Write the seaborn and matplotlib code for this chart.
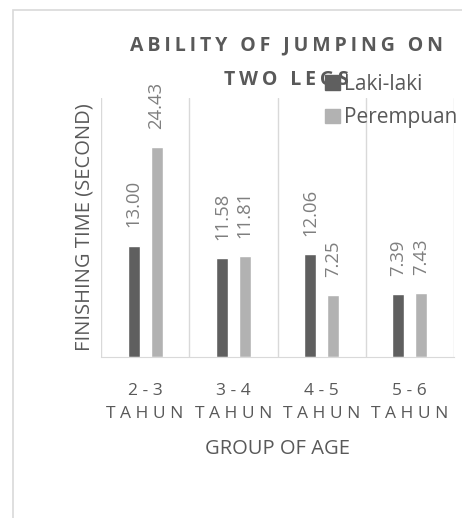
import pandas as pd
import matplotlib.pyplot as plt
import seaborn as sns
from matplotlib.patches import Rectangle

# ============================================
# DATA
# ============================================
age_groups = ["2-3", "3-4", "4-5", "5-6"]
tick_labels = ["2 - 3\nT A H U N", "3 - 4\nT A H U N", "4 - 5\nT A H U N", "5 - 6\nT A H U N"]
laki_laki = [13.00, 11.58, 12.06, 7.39]
perempuan = [24.43, 11.81, 7.25, 7.43]
series_names = ["Laki-laki", "Perempuan"]
title_lines = ["ABILITY OF JUMPING ON", "TWO LEGS"]

df = pd.DataFrame({
    "Age": age_groups * 2,
    "Time": laki_laki + perempuan,
    "Gender": [series_names[0]] * 4 + [series_names[1]] * 4,
})

# ============================================
# STYLE
# ============================================
sns.set_style("white")
plt.rcParams["font.family"] = ["Open Sans", "DejaVu Sans"]

text_color = "#595959"
grid_color = "#d9d9d9"
palette = {"Laki-laki": "#5f5f5f", "Perempuan": "#b2b2b2"}

fig = plt.figure(figsize=(4.62, 5.18), dpi=100)
ax = fig.add_axes([101 / 462, 1 - 357 / 518, 353 / 462, 259 / 518])

sns.barplot(data=df, x="Age", y="Time", hue="Gender", palette=palette,
            width=0.52, gap=0.48, ax=ax, legend=False, saturation=1)

for cont in ax.containers:
    ax.bar_label(cont, fmt="%.2f", rotation=90, padding=13,
                 fontsize=13.3, color="#7f7f7f")

ax.set_ylim(0, 30.2)
ax.set_xlim(-0.5, 3.5)
ax.set_yticks([])
ax.set_xticks(range(4))
ax.set_xticklabels(tick_labels, fontsize=12.5, color=text_color, linespacing=1.55)
ax.tick_params(axis="x", length=0, pad=19)

# vertical gridlines between categories
for xv in [-0.5, 0.5, 1.5, 2.5, 3.5]:
    ax.axvline(xv, color=grid_color, lw=1, zorder=0)
for s in ["top", "right", "left"]:
    ax.spines[s].set_visible(False)
ax.spines["bottom"].set_color(grid_color)

ax.set_xlabel("GROUP OF AGE", fontsize=14.5, color=text_color, labelpad=12)
ax.set_ylabel("FINISHING TIME (SECOND)", fontsize=14.5, color=text_color, labelpad=5)

# title with letter spacing, one text per line
for line, ypix in zip(title_lines, [45, 80]):
    fig.text(286 / 462, 1 - ypix / 518, "\u2009".join(line), ha="center",
             va="center", fontsize=14, fontweight="bold", color=text_color)

# legend
handles = [Rectangle((0, 0), 1, 1, color=palette[n]) for n in series_names]
fig.legend(handles, series_names, loc="upper left",
           bbox_to_anchor=(325 / 462, 1 - 74 / 518), frameon=False,
           fontsize=15, labelcolor=text_color, handlelength=0.7,
           handleheight=0.7, handletextpad=0.2, labelspacing=0.6,
           borderaxespad=0, borderpad=0)

# outer chart border
fig.add_artist(Rectangle((13 / 462, -0.5), 2, 0.5 + 1 - 10 / 518,
                         transform=fig.transFigure, fill=False,
                         edgecolor=grid_color, lw=1.2))

plt.savefig("out.png", dpi=100)
